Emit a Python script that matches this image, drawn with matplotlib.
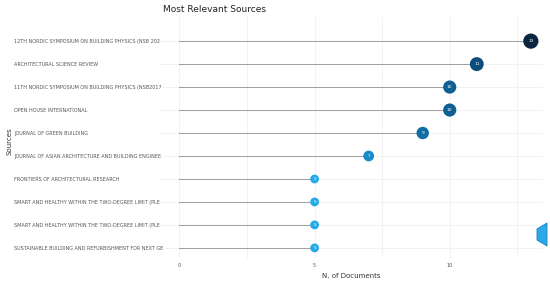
import numpy as np
import matplotlib
matplotlib.use("Agg")
import matplotlib.pyplot as plt
from matplotlib.colors import LinearSegmentedColormap
from matplotlib.patches import Polygon

sources = [
    "12TH NORDIC SYMPOSIUM ON BUILDING PHYSICS (NSB 202",
    "ARCHITECTURAL SCIENCE REVIEW",
    "11TH NORDIC SYMPOSIUM ON BUILDING PHYSICS (NSB2017",
    "OPEN HOUSE INTERNATIONAL",
    "JOURNAL OF GREEN BUILDING",
    "JOURNAL OF ASIAN ARCHITECTURE AND BUILDING ENGINEE",
    "FRONTIERS OF ARCHITECTURAL RESEARCH",
    "SMART AND HEALTHY WITHIN THE TWO-DEGREE LIMIT (PLE",
    "SMART AND HEALTHY WITHIN THE TWO-DEGREE LIMIT (PLE",
    "SUSTAINABLE BUILDING AND REFURBISHMENT FOR NEXT GE",
]
n_docs = [13, 11, 10, 10, 9, 7, 5, 5, 5, 5]
x_ticks = [0, 5, 10]

cmap = LinearSegmentedColormap.from_list(
    "docs", ["#22aaea", "#1581be", "#0d5a8e", "#0b2440"])

fig = plt.figure(figsize=(5.5, 2.81), dpi=100)
ax = fig.add_axes([160 / 550, 1 - 258 / 281, 383 / 550, 241 / 281])

n = len(sources)
ypos = np.arange(n, 0, -1)
vals = np.array(n_docs)
norm = plt.Normalize(min(vals), max(vals))

for y, v in zip(ypos, vals):
    ax.plot([0, v], [y, y], color="#a0a0a0", lw=0.75, zorder=2)

sizes = 40 + (vals - 5) * 10
ax.scatter(vals, ypos, s=sizes, c=cmap(norm(vals)), zorder=3, linewidths=0)
for y, v in zip(ypos, vals):
    ax.text(v, y, str(v), color="white", fontsize=3.2, ha="center",
            va="center", zorder=4)

ax.set_xlim(-0.72, 13.45)
ax.set_ylim(0.56, 11.05)
ax.set_xticks(x_ticks)
ax.set_xticks(np.arange(0, 13.5, 2.5), minor=True)
ax.set_yticks(ypos)
ax.set_yticklabels(sources)
ax.grid(True, which="both", color="#f0f0f0", lw=0.6, zorder=0)
ax.tick_params(axis="both", which="both", length=0, labelsize=3.5,
               colors="#555555")
ax.tick_params(axis="y", pad=146 * 72 / 100)
for lbl in ax.get_yticklabels():
    lbl.set_horizontalalignment("left")
for s in ax.spines.values():
    s.set_visible(False)

ax.set_xlabel("N. of Documents", fontsize=5, color="#333333", labelpad=4)
fig.text(6 / 550, 140 / 281, "Sources", rotation=90, fontsize=5,
         color="#333333", ha="left", va="center")
fig.text(163 / 550, 1 - 10 / 281, "Most Relevant Sources", fontsize=6.5,
         color="#222222", ha="left", va="center")

# small logo at bottom right
pts = np.array([[537, 229], [547, 223], [547, 246], [537, 240]], float)
pts[:, 1] = 281 - pts[:, 1]
logo = Polygon(pts / [550, 281], closed=True, transform=fig.transFigure,
               facecolor="#2aa8e8", edgecolor="#1580c0", lw=0.6)
fig.patches.append(logo)

fig.savefig("out.png", dpi=100, facecolor="white")
